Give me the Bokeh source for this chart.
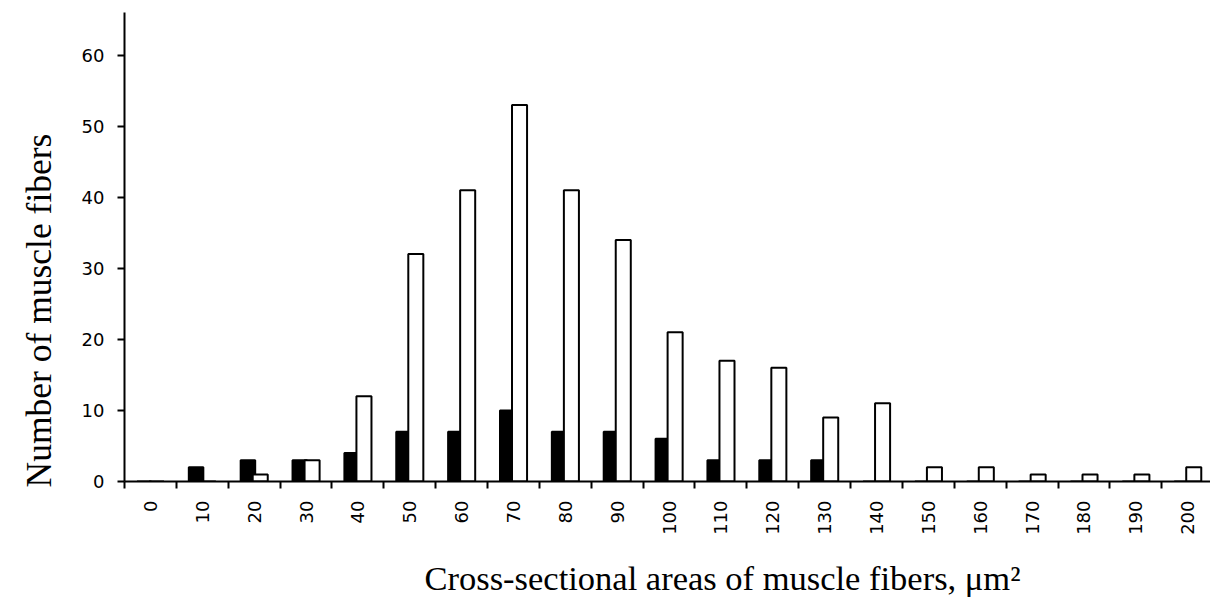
import math
from bokeh.plotting import figure
from bokeh.models import FixedTicker, Title, Range1d, ColumnDataSource
from bokeh.transform import dodge
from bokeh.embed import file_html
from bokeh.resources import INLINE

# ---- data ----
categories = ["0", "10", "20", "30", "40", "50", "60", "70", "80", "90", "100",
              "110", "120", "130", "140", "150", "160", "170", "180", "190", "200"]
black_counts = [0, 2, 3, 3, 4, 7, 7, 10, 7, 7, 6, 3, 3, 3, 0, 0, 0, 0, 0, 0, 0]
white_counts = [0, 0, 1, 3, 12, 32, 41, 53, 41, 34, 21, 17, 16, 9, 11, 2, 2, 1, 1, 1, 2]
y_ticks = [0, 10, 20, 30, 40, 50, 60]

idx = list(range(len(categories)))
src = ColumnDataSource(dict(idx=idx, cat=categories, black=black_counts, white=white_counts))

p = figure(width=1210, height=615, output_backend="svg", toolbar_location=None,
           x_range=Range1d(-0.5, 20.44), y_range=Range1d(0, 66),
           min_border_left=123, min_border_right=0, min_border_top=12, min_border_bottom=134)
p.grid.visible = False
p.outline_line_color = None
p.background_fill_color = "white"

p.vbar(x=dodge("idx", -0.12, range=p.x_range), top="black", width=0.28, bottom=0,
       source=src, fill_color="black", line_color="black", line_width=2)
p.vbar(x=dodge("idx", 0.117, range=p.x_range), top="white", width=0.29, bottom=0,
       source=src, fill_color="white", line_color="black", line_width=2)

TICK_FONT = "DejaVu Sans"

xa = p.xaxis[0]
xa.ticker = FixedTicker(ticks=idx, minor_ticks=[i - 0.5 for i in range(len(categories) + 1)])
xa.major_label_overrides = {i: c for i, c in zip(idx, categories)}
xa.major_tick_out = 0
xa.major_tick_in = 0
xa.major_tick_line_color = None
xa.minor_tick_out = 7
xa.minor_tick_in = 0
xa.minor_tick_line_color = "black"
xa.minor_tick_line_width = 2
xa.axis_line_color = "black"
xa.axis_line_width = 2
xa.major_label_orientation = math.pi / 2
xa.major_label_standoff = 12
xa.major_label_text_font = TICK_FONT
xa.major_label_text_font_size = "18px"
xa.major_label_text_color = "black"

ya = p.yaxis[0]
ya.ticker = FixedTicker(ticks=y_ticks, minor_ticks=[])
ya.major_tick_out = 7
ya.major_tick_in = 0
ya.major_tick_line_color = "black"
ya.major_tick_line_width = 2
ya.minor_tick_line_color = None
ya.axis_line_color = "black"
ya.axis_line_width = 2
ya.major_label_standoff = 13
ya.major_label_text_font = TICK_FONT
ya.major_label_text_font_size = "18px"
ya.major_label_text_color = "black"

xt = Title(text="Cross-sectional areas of muscle fibers, μm²", align="left", offset=300,
           standoff=38, text_font="Liberation Serif", text_font_size="34.5px",
           text_font_style="normal", text_color="black")
yt = Title(text="Number of muscle fibers", align="left", offset=-6, vertical_align="top",
           standoff=36, text_font="Liberation Serif", text_font_size="35.5px",
           text_font_style="normal", text_color="black")
p.add_layout(xt, "below")
p.add_layout(yt, "left")

open("out.html", "w").write(file_html(p, INLINE))
